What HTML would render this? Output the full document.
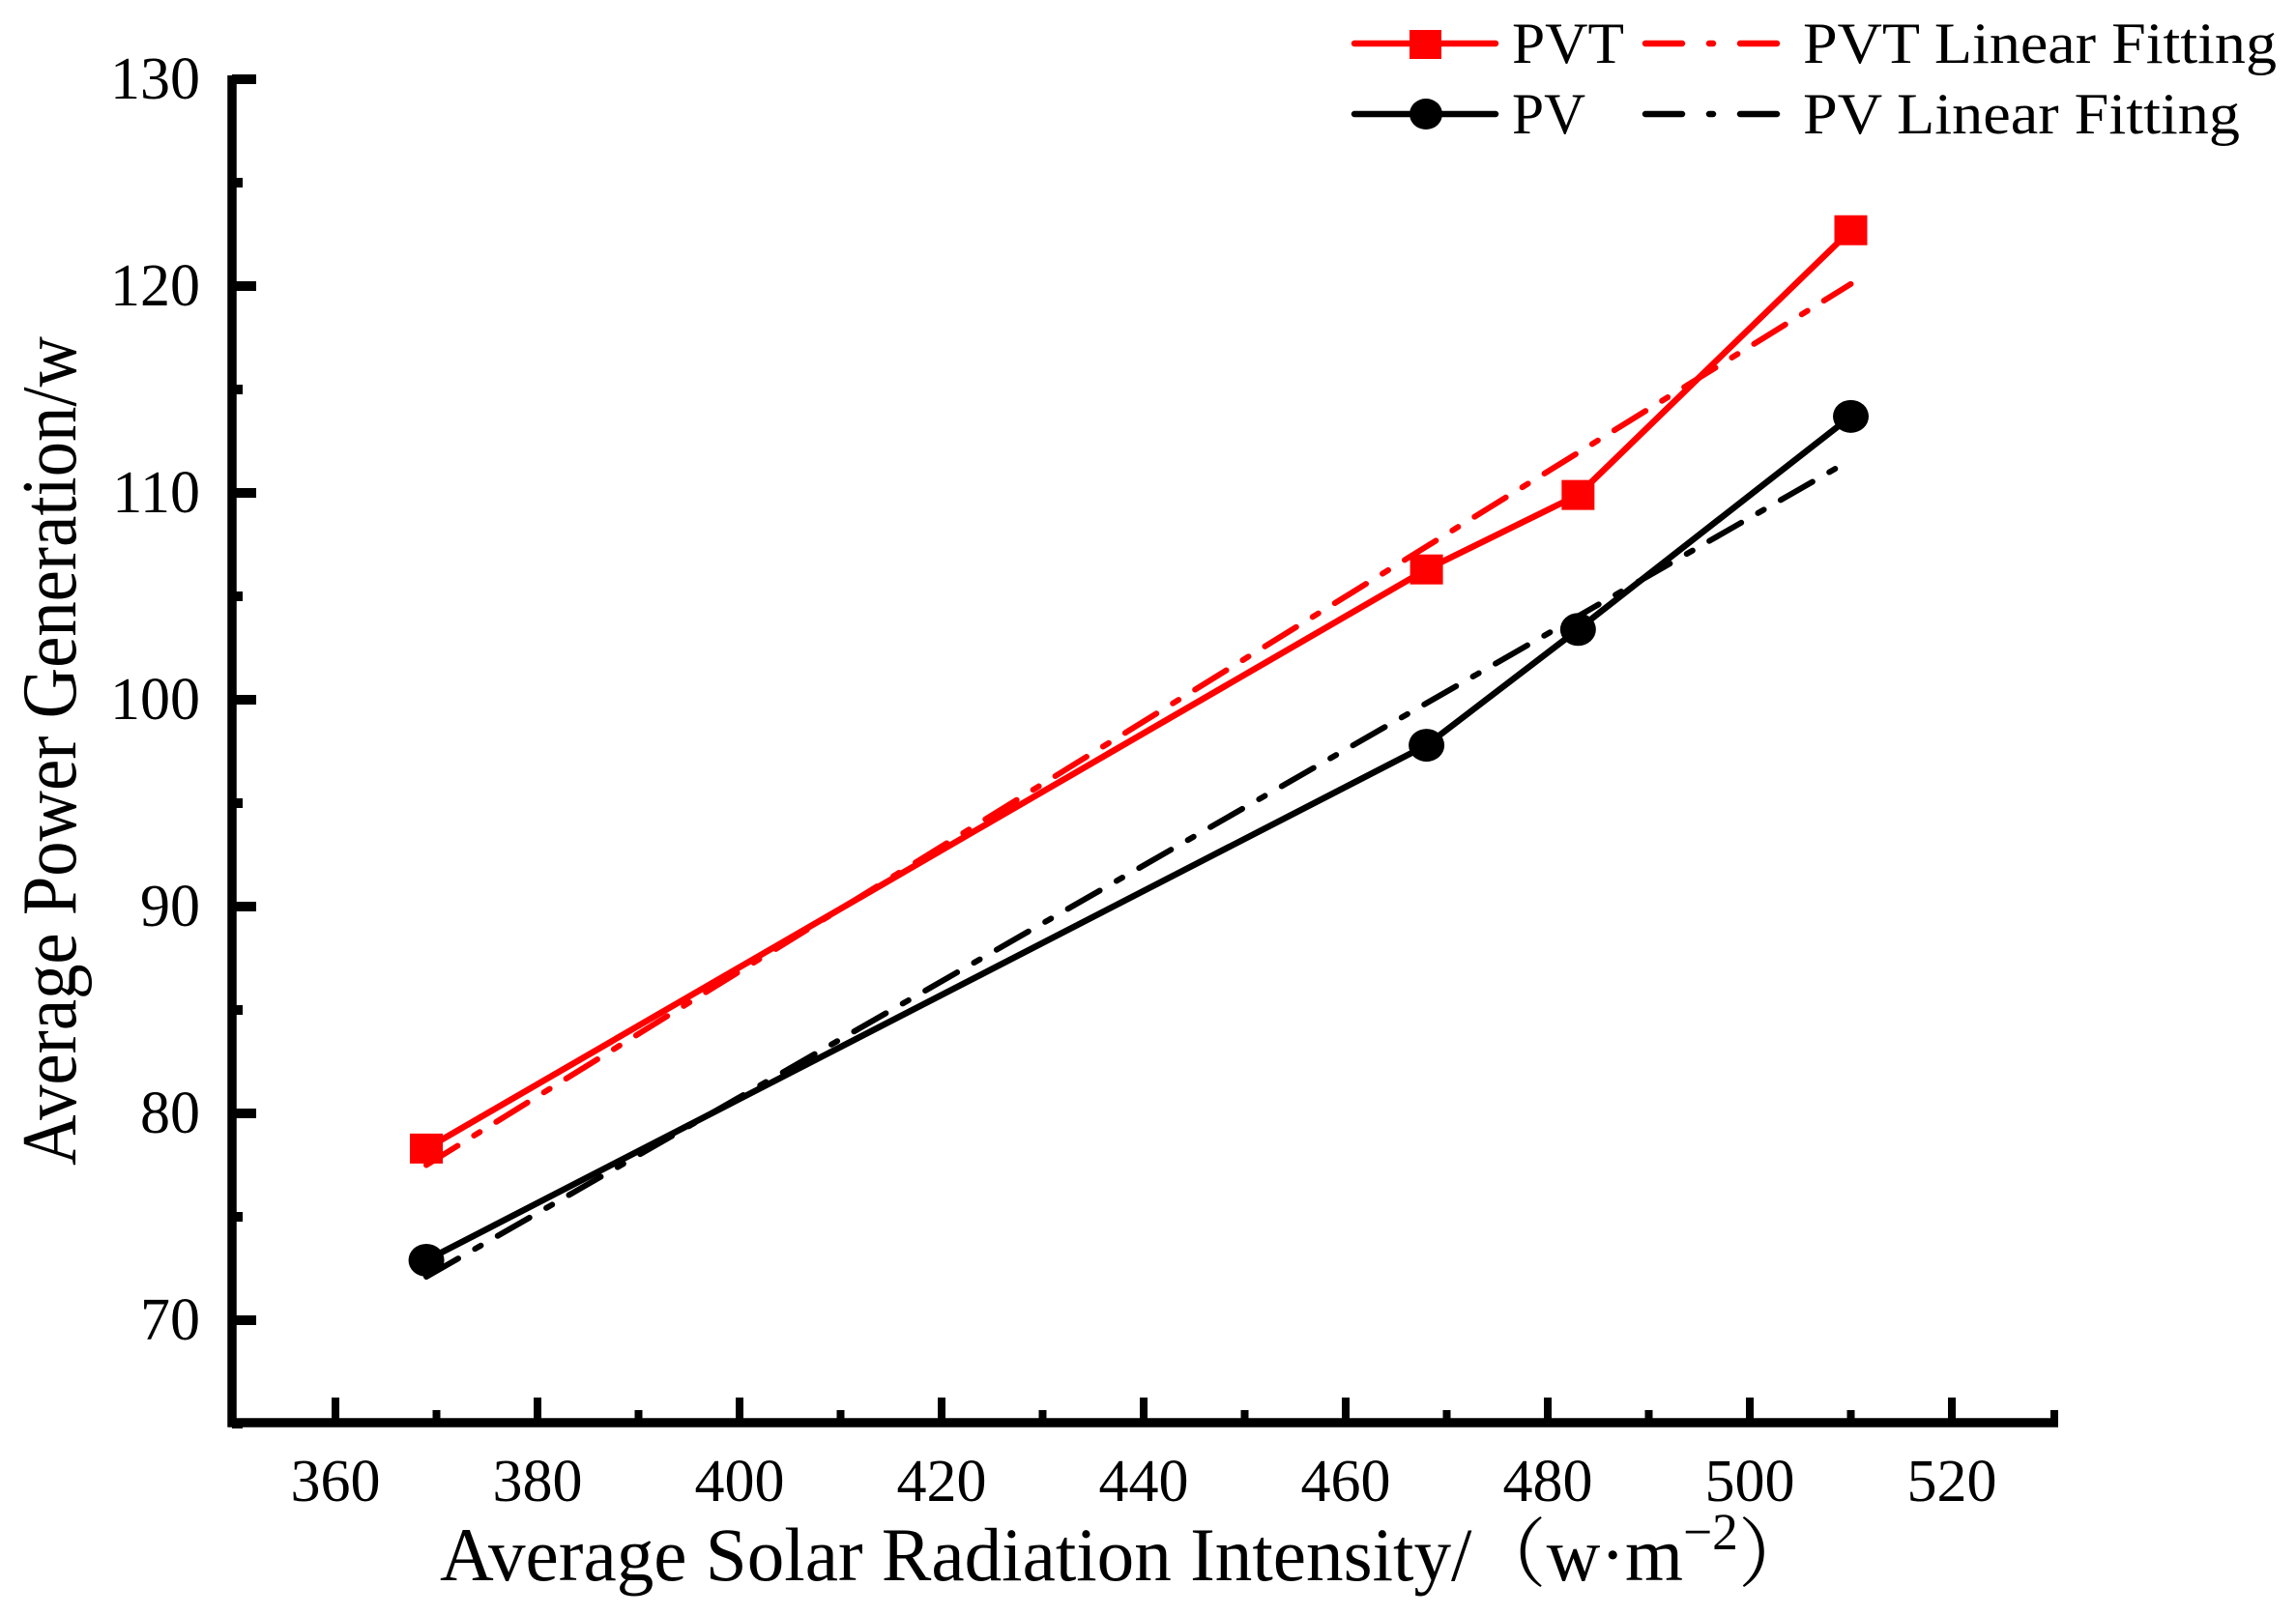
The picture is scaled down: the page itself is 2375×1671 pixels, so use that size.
<!DOCTYPE html>
<html><head><meta charset="utf-8"><style>
html,body{margin:0;padding:0;background:#fff;}
svg{display:block;font-family:"Liberation Serif","Noto Serif CJK SC",serif;}
</style></head><body>
<svg id="chart" width="2375" height="1671" viewBox="0 0 2375 1671" xmlns="http://www.w3.org/2000/svg">
<g id="axes"></g>
<g id="series"></g>
<g id="legend"></g>
</svg>
<script>
const xTicks = [360, 380, 400, 420, 440, 460, 480, 500, 520];
const yTicks = [70, 80, 90, 100, 110, 120, 130];
const xValues = [369, 468, 483, 510];
const pvtValues = [78.3, 106.3, 109.9, 122.7];
const pvValues = [72.9, 97.8, 103.4, 113.7];
const fitX = [369, 510];
const pvtFit = [77.5, 120.1];
const pvFit = [72.1, 111.6];

const NS = "http://www.w3.org/2000/svg";
const X0 = 347, XS = 10.45, Y0 = 82, YS = 21.4;
const xs = v => X0 + (v - 360) * XS;
const ys = v => Y0 + (130 - v) * YS;
function mk(tag, attrs, parent) {
  const e = document.createElementNS(NS, tag);
  for (const k in attrs) e.setAttribute(k, attrs[k]);
  parent.appendChild(e);
  return e;
}
const axes = document.getElementById('axes');
const series = document.getElementById('series');
const legend = document.getElementById('legend');
const axL = 240, axB = 1472, axR = 2129;

let a = mk('line', {x1: axL, y1: 78, x2: axL, y2: axB + 4.5, stroke: '#000', 'stroke-width': 9.5}, axes);


a = mk('line', {x1: axL - 4.5, y1: axB, x2: axR, y2: axB, stroke: '#000', 'stroke-width': 9.5}, axes);



xTicks.forEach((t, i) => {
  const x = xs(t);
  const tk = mk('line', {x1: x, y1: axB, x2: x, y2: axB - 26, stroke: '#000', 'stroke-width': 8}, axes);
  
  
  if (i < xTicks.length - 1) {
    const mx = xs(t + 10);
    const mt = mk('line', {x1: mx, y1: axB, x2: mx, y2: axB - 13, stroke: '#000', 'stroke-width': 8}, axes);
    
    
  }
  const lb = mk('text', {x: x, y: 1553, 'font-size': 62, 'text-anchor': 'middle', fill: '#000'}, axes);
  lb.textContent = t;
  
  
});
const mEnd = mk('line', {x1: axR - 4, y1: axB, x2: axR - 4, y2: axB - 13, stroke: '#000', 'stroke-width': 8}, axes);



yTicks.forEach((t, i) => {
  const y = ys(t);
  const tk = mk('line', {x1: axL, y1: y, x2: axL + 25, y2: y, stroke: '#000', 'stroke-width': 10}, axes);
  
  
  const mt = mk('line', {x1: axL, y1: ys(t - 5), x2: axL + 11, y2: ys(t - 5), stroke: '#000', 'stroke-width': 10}, axes);
  
  
  const lb = mk('text', {x: 207, y: y + 20, 'font-size': 62, 'text-anchor': 'end', fill: '#000'}, axes);
  lb.textContent = t;
  
  
});

const xt = mk('text', {x: 455, y: 1635, 'font-size': 78, fill: '#000', textLength: 1420, lengthAdjust: 'spacingAndGlyphs'}, axes);
xt.innerHTML = 'Average Solar Radiation Intensity/（w·m<tspan dy="-32" font-size="54">−2</tspan><tspan dy="32">）</tspan>';


const yt = mk('text', {x: 0, y: 0, 'font-size': 80, fill: '#000', 'text-anchor': 'middle', transform: 'translate(78,777) rotate(-90)', textLength: 858, lengthAdjust: 'spacingAndGlyphs'}, axes);
yt.textContent = 'Average Power Generation/w';



const dash = '38 20 7 20';
function fitLine(vals, color, name) {
  const l = mk('line', {x1: xs(fitX[0]), y1: ys(vals[0]), x2: xs(fitX[1]), y2: ys(vals[1]), stroke: color, 'stroke-width': 6, 'stroke-dasharray': dash, 'stroke-linecap': 'round'}, series);
  
  
}
fitLine(pvtFit, '#ff0000', 'pvt-fit-line');
fitLine(pvFit, '#000', 'pv-fit-line');

function dataLine(vals, color, name) {
  const pts = xValues.map((x, i) => xs(x) + ',' + ys(vals[i])).join(' ');
  const p = mk('polyline', {points: pts, fill: 'none', stroke: color, 'stroke-width': 6.5, 'stroke-linejoin': 'round'}, series);
  
  
}
dataLine(pvtValues, '#ff0000', 'pvt-line');
dataLine(pvValues, '#000', 'pv-line');
xValues.forEach((x, i) => {
  const s = mk('rect', {x: xs(x) - 17, y: ys(pvtValues[i]) - 15.5, width: 34, height: 31, fill: '#ff0000'}, series);
  
  
  const c = mk('ellipse', {cx: xs(x), cy: ys(pvValues[i]), rx: 18.5, ry: 17, fill: '#000'}, series);
  
  
});

function legLine(x1, x2, y, color, extra, name) {
  const l = mk('line', Object.assign({x1: x1, y1: y, x2: x2, y2: y, stroke: color, 'stroke-width': 6.5, 'stroke-linecap': 'round'}, extra), legend);
  
  
}
function legText(x, y, s, len, name) {
  const t = mk('text', {x: x, y: y, 'font-size': 60, fill: '#000', textLength: len, lengthAdjust: 'spacingAndGlyphs'}, legend);
  t.textContent = s;
  
  
}
legLine(1401, 1547, 45, '#ff0000', {}, 'legend-pvt-line');
const ls = mk('rect', {x: 1458, y: 31, width: 33, height: 30, fill: '#ff0000'}, legend);


legText(1564, 65, 'PVT', 116, 'legend-pvt-label');
legLine(1702, 1840, 45, '#ff0000', {'stroke-dasharray': '38 28 4 28'}, 'legend-pvt-fit-line');
legText(1865, 65, 'PVT Linear Fitting', 490, 'legend-pvt-fit-label');

legLine(1401, 1547, 118, '#000', {}, 'legend-pv-line');
const lc = mk('ellipse', {cx: 1475, cy: 118, rx: 17, ry: 16, fill: '#000'}, legend);


legText(1564, 138, 'PV', 76, 'legend-pv-label');
legLine(1702, 1840, 118, '#000', {'stroke-dasharray': '38 28 4 28'}, 'legend-pv-fit-line');
legText(1865, 138, 'PV Linear Fitting', 452, 'legend-pv-fit-label');
</script>
</body></html>
